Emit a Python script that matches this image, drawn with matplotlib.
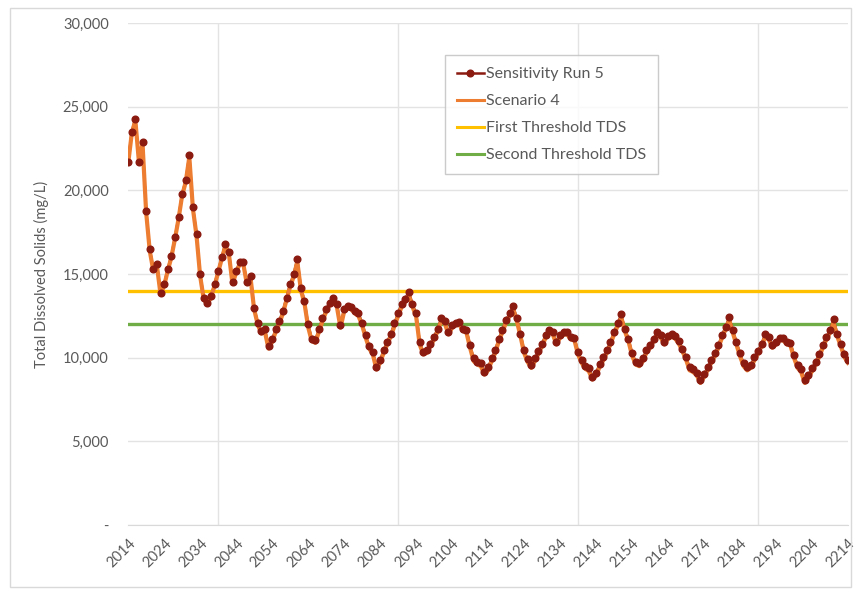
import matplotlib.pyplot as plt
from matplotlib.patches import Rectangle
from matplotlib.lines import Line2D

plt.rcParams['font.family'] = ['Lato', 'DejaVu Sans']

first_year = 2014
last_year = 2214

# TDS (mg/L), one value per year 2014-2214
sensitivity_run5 = [
    21700, 23500, 24300, 21700, 22900, 18800, 16500, 15300, 15600, 13900,
    14400, 15300, 16100, 17200, 18400, 19800, 20600, 22100, 19000, 17400,
    15000, 13600, 13300, 13700, 14400, 15200, 16000, 16800, 16300, 14500,
    15200, 15700, 15700, 14500, 14900, 13000, 12100, 11600, 11700, 10700,
    11100, 11700, 12200, 12800, 13600, 14400, 15000, 15900, 14200, 13400,
    12000, 11150, 11050, 11700, 12350, 12900, 13300, 13600, 13200, 11950,
    12900, 13100, 13050, 12800, 12650, 12100, 11350, 10700, 10350, 9450,
    9860, 10450, 10950, 11450, 12050, 12680, 13240, 13540, 13950, 13200,
    12650, 10950, 10350, 10450, 10850, 11250, 11750, 12350, 12200, 11550,
    11950, 12090, 12150, 11750, 11650, 10750, 9960, 9760, 9660, 9160,
    9420, 9960, 10450, 11150, 11690, 12250, 12650, 13080, 12350, 11450,
    10450, 9900, 9560, 9960, 10410, 10850, 11350, 11690, 11550, 10950,
    11350, 11550, 11550, 11250, 11210, 10350, 9860, 9500, 9360, 8860,
    9100, 9620, 10020, 10450, 10950, 11550, 12050, 12590, 11750, 11150,
    10290, 9760, 9660, 9960, 10450, 10750, 11150, 11550, 11350, 10950,
    11290, 11410, 11290, 11000, 10550, 10050, 9420, 9300, 9100, 8660,
    9020, 9420, 9860, 10260, 10750, 11350, 11850, 12410, 11650, 10950,
    10260, 9660, 9420, 9560, 10020, 10410, 10850, 11410, 11250, 10750,
    10950, 11210, 11210, 10950, 10890, 10160, 9560, 9300, 8660, 8960,
    9360, 9760, 10210, 10750, 11250, 11650, 12300, 11450, 10850, 10210,
    9860,
]

scenario4 = [
    21600, 23400, 24200, 21700, 22800, 18700, 16400, 15200, 15500, 13800,
    14300, 15200, 16000, 17100, 18300, 19700, 20500, 22000, 18900, 17300,
    14900, 13500, 13200, 13600, 14300, 15100, 15900, 16700, 16200, 14400,
    15100, 15600, 15600, 14400, 14800, 12900, 12000, 11450, 11550, 10550,
    10950, 11550, 12050, 12650, 13450, 14250, 14850, 15750, 14050, 13250,
    11850, 11000, 10900, 11550, 12200, 12750, 13150, 13450, 13050, 11800,
    12750, 12950, 12900, 12650, 12500, 11950, 11200, 10550, 10200, 9300,
    9700, 10300, 10800, 11300, 11900, 12500, 13050, 13350, 13750, 13050,
    12500, 10800, 10200, 10300, 10700, 11100, 11600, 12200, 12050, 11400,
    11800, 11950, 12000, 11600, 11500, 10600, 9800, 9600, 9500, 9000,
    9250, 9800, 10300, 11000, 11550, 12100, 12500, 12900, 12200, 11300,
    10300, 9750, 9400, 9800, 10250, 10700, 11200, 11550, 11400, 10800,
    11200, 11400, 11400, 11100, 11050, 10200, 9700, 9350, 9200, 8700,
    8950, 9450, 9850, 10300, 10800, 11400, 11900, 12400, 11600, 11000,
    10150, 9600, 9500, 9800, 10300, 10600, 11000, 11400, 11200, 10800,
    11150, 11250, 11150, 10850, 10400, 9900, 9250, 9150, 8950, 8500,
    8850, 9250, 9700, 10100, 10600, 11200, 11700, 12250, 11500, 10800,
    10100, 9500, 9250, 9400, 9850, 10250, 10700, 11250, 11100, 10600,
    10800, 11050, 11050, 10800, 10750, 10000, 9400, 9150, 8500, 8800,
    9200, 9600, 10050, 10600, 11100, 11500, 12100, 11300, 10700, 10050,
    9700,
]

first_threshold = 14000
second_threshold = 12000

years = list(range(first_year, last_year + 1))
idx = list(range(len(years)))

fig = plt.figure(figsize=(8.6, 5.94), dpi=100)
ax = fig.add_axes([0.149, 0.116, 0.837, 0.845])

# light chart-area border
fig.patches.append(Rectangle((0.012, 0.012), 0.978, 0.975, transform=fig.transFigure,
                             fill=False, edgecolor='#d9d9d9', linewidth=1.0))

red = '#8b1a10'
orange = '#ed7d31'
yellow = '#ffc000'
green = '#70ad47'

ax.plot(idx, sensitivity_run5, color=red, lw=1.8, zorder=3)
ax.plot(idx, scenario4, color=orange, lw=3.0, zorder=4)
ax.plot(idx, sensitivity_run5, ls='none', marker='o', ms=4.8, color=red, zorder=5)
ax.plot([idx[0], idx[-1]], [first_threshold] * 2, color=yellow, lw=2.4, zorder=2)
ax.plot([idx[0], idx[-1]], [second_threshold] * 2, color=green, lw=2.4, zorder=2)

ax.set_xlim(0, len(years) - 1)
ax.set_ylim(0, 30000)

yt = list(range(0, 30001, 5000))
ax.set_yticks(yt)
ax.set_yticklabels(['-' if v == 0 else '{:,.0f}'.format(v) for v in yt])

xt = idx[::10]
ax.set_xticks(xt)
ax.set_xticklabels([str(years[i]) for i in xt], rotation=45, ha='right', rotation_mode='anchor')
ax.set_xticks(idx[::25], minor=True)

ax.tick_params(axis='both', which='both', length=0, colors='#595959', labelsize=10.5)
ax.tick_params(axis='x', pad=8)
ax.tick_params(axis='y', pad=14)
ax.grid(False)
ax.yaxis.grid(True, color='#e3e3e3', lw=1.0)
ax.xaxis.grid(True, which='minor', color='#e3e3e3', lw=1.0)
for s in ['top', 'right', 'left']:
    ax.spines[s].set_visible(False)
ax.spines['bottom'].set_color('#d9d9d9')
ax.set_axisbelow(True)

ax.set_ylabel('Total Dissolved Solids (mg/L)', color='#595959', fontsize=10.5, labelpad=10)

handles = [
    Line2D([0, 0.5, 1], [0, 0, 0], color=red, lw=1.8, marker='o', ms=4.8, markevery=[1]),
    Line2D([], [], color=orange, lw=2.2),
    Line2D([], [], color=yellow, lw=2.2),
    Line2D([], [], color=green, lw=2.2),
]
leg = ax.legend(handles, ['Sensitivity Run 5', 'Scenario 4', 'First Threshold TDS', 'Second Threshold TDS'],
                loc='upper left', bbox_to_anchor=(0.44, 0.936), frameon=True, fancybox=False,
                edgecolor='#bfbfbf', fontsize=11.5, labelspacing=0.8, handlelength=1.7,
                handletextpad=0.15, borderpad=0.75, borderaxespad=0)
leg.get_frame().set_linewidth(1.0)
for t in leg.get_texts():
    t.set_color('#595959')

plt.savefig('out.png', dpi=100)
